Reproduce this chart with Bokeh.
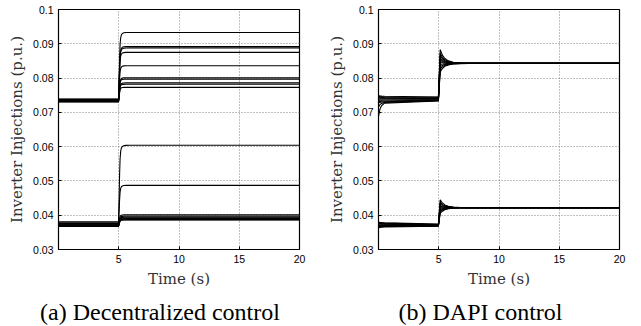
import numpy as np
from bokeh.plotting import figure
from bokeh.layouts import row, column
from bokeh.models import Div, FixedTicker
from bokeh.embed import file_html
from bokeh.resources import INLINE

# ---------------- data ----------------
xticks = [5, 10, 15, 20]
yticks = [0.03, 0.04, 0.05, 0.06, 0.07, 0.08, 0.09, 0.1]
ytick_labels = ["0.03", "0.04", "0.05", "0.06", "0.07", "0.08", "0.09", "0.1"]

# (a) Decentralized control: level before and after the step at t = 5 s
dec_upper_pre = [0.0739, 0.0738, 0.0737, 0.0736, 0.0735, 0.0734, 0.0733, 0.0732, 0.0731, 0.0730]
dec_upper_post = [0.0933, 0.0892, 0.0888, 0.0875, 0.0836, 0.0801, 0.0797, 0.0786, 0.0782, 0.0773]
dec_lower_pre = [0.0381, 0.0378, 0.0376, 0.0374, 0.0372, 0.0371, 0.0370, 0.0369, 0.0368, 0.0367]
dec_lower_post = [0.0604, 0.0487, 0.0401, 0.0397, 0.0394, 0.0392, 0.0390, 0.0389, 0.0387, 0.0386]
# shape of the step response (fraction of the change reached)
dec_t = [0, 4.98, 5.03, 5.07, 5.11, 5.16, 5.22, 5.3, 5.42, 5.6, 5.9, 20]
dec_frac = [0, 0, 0.3, 0.62, 0.82, 0.92, 0.965, 0.985, 0.995, 0.999, 1, 1]

# (b) DAPI control
dapi_up_t0 = [0.0749, 0.0747, 0.0745, 0.0742, 0.0739, 0.0735, 0.0731, 0.0727, 0.0715, 0.0688]
dapi_up_early = [0.0747, 0.0745, 0.0743, 0.0741, 0.0739, 0.0736, 0.0733, 0.0731, 0.0729, 0.0727]
dapi_up_pre = [0.0745, 0.0744, 0.0742, 0.0740, 0.0739, 0.0737, 0.0736, 0.0735, 0.0734, 0.0733]
dapi_up_peak = [0.0883, 0.0872, 0.0865, 0.0858, 0.0852, 0.0847, 0.0840, 0.0833, 0.0826, 0.0818]
dapi_up_final = 0.0843
dapi_lo_t0 = [0.0380, 0.0379, 0.0378, 0.0377, 0.0375, 0.0372, 0.0369, 0.0367, 0.0365, 0.0363]
dapi_lo_early = [0.0378, 0.0377, 0.0376, 0.0375, 0.0374, 0.0372, 0.0370, 0.0368, 0.0367, 0.0366]
dapi_lo_pre = [0.0374, 0.0373, 0.0372, 0.0371, 0.0371, 0.0370, 0.0370, 0.0369, 0.0369, 0.0368]
dapi_lo_peak = [0.0445, 0.0438, 0.0433, 0.0428, 0.0425, 0.0421, 0.0417, 0.0413, 0.0410, 0.0405]
dapi_lo_final = 0.0422
# shared shapes of the transients
dapi_start_t = [0, 0.12, 0.25, 0.5]
dapi_start_w = [1, 0.45, 0.2, 0]
dapi_pre_t = 4.97
dapi_peak_t = 5.12
dapi_settle_t = [5.3, 5.5, 5.8, 6.2, 6.8, 7.5, 20]
dapi_settle_w = [0.6, 0.35, 0.18, 0.08, 0.03, 0, 0]

caption_a = "(a) Decentralized control"
caption_b = "(b) DAPI control"
xlabel = "Time (s)"
ylabel = "Inverter Injections (p.u.)"

# ---------------- build figures ----------------
def make_fig(right_border):
    p = figure(frame_width=241, frame_height=240, x_range=(0, 20), y_range=(0.03, 0.1),
               output_backend="svg", toolbar_location=None,
               min_border_left=58, min_border_right=right_border,
               min_border_top=9, min_border_bottom=49)
    p.background_fill_color = "white"
    p.border_fill_color = "white"
    p.outline_line_color = "black"
    p.outline_line_width = 1.2
    p.xaxis.ticker = FixedTicker(ticks=xticks)
    p.yaxis.ticker = FixedTicker(ticks=yticks)
    p.yaxis.major_label_overrides = {v: s for v, s in zip(yticks, ytick_labels)}
    for ax in (p.xaxis[0], p.yaxis[0]):
        ax.axis_line_color = None
        ax.major_tick_in = 3
        ax.major_tick_out = 0
        ax.minor_tick_line_color = None
        ax.major_tick_line_color = "black"
        ax.major_label_text_font = "Liberation Sans"
        ax.major_label_text_font_size = "10.5px"
        ax.major_label_text_color = "black"
        ax.major_label_standoff = 5
        ax.axis_label_text_font = "DejaVu Serif"
        ax.axis_label_text_font_size = "15px"
        ax.axis_label_text_font_style = "normal"
        ax.axis_label_text_color = "#333333"
        ax.axis_label_standoff = 4
    p.xaxis.axis_label = xlabel
    p.yaxis.axis_label = ylabel
    for g in (p.xgrid[0], p.ygrid[0]):
        g.grid_line_color = "#808080"
        g.grid_line_dash = "1 2"
        g.grid_line_width = 1
    return p

p1 = make_fig(21)
for pre_list, post_list in ((dec_upper_pre, dec_upper_post), (dec_lower_pre, dec_lower_post)):
    for pre, post in zip(pre_list, post_list):
        ys = [pre + (post - pre) * f for f in dec_frac]
        p1.line(dec_t, ys, line_color="black", line_width=1.1)

p2 = make_fig(22)
for t0s, earlys, pres, peaks, final in (
        (dapi_up_t0, dapi_up_early, dapi_up_pre, dapi_up_peak, dapi_up_final),
        (dapi_lo_t0, dapi_lo_early, dapi_lo_pre, dapi_lo_peak, dapi_lo_final)):
    for a0, a1, apre, apk in zip(t0s, earlys, pres, peaks):
        ts = list(dapi_start_t) + [dapi_pre_t, dapi_peak_t] + list(dapi_settle_t)
        ys = [a1 + (a0 - a1) * w for w in dapi_start_w] + [apre, apk] + \
             [final + (apk - final) * w for w in dapi_settle_w]
        p2.line(ts, ys, line_color="black", line_width=1.1)

def caption(txt, w):
    return Div(text=txt, width=w, height=28, margin=0,
               styles={"font-family": "Liberation Serif", "font-size": "24px",
                       "text-align": "center", "line-height": "28px", "color": "black"})

layout = row(column(p1, caption(caption_a, 320), spacing=0),
             column(p2, caption(caption_b, 321), spacing=0),
             spacing=0)

open("out.html", "w").write(file_html(layout, INLINE))
